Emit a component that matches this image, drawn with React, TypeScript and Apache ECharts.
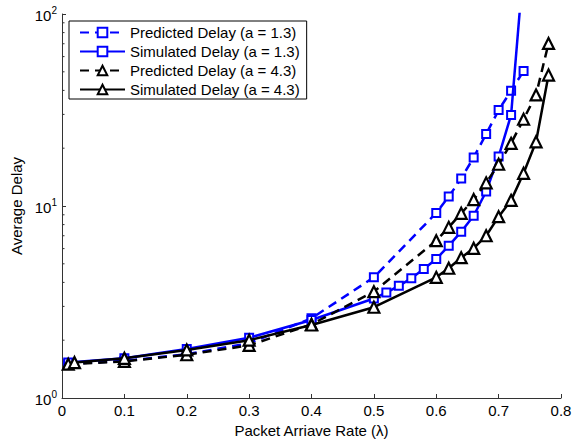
import React, { useEffect, useRef } from "react";
import * as echarts from "echarts";

const predA13X = [0.01, 0.1, 0.2, 0.3, 0.4, 0.5, 0.6, 0.62, 0.64, 0.66, 0.68, 0.7, 0.72, 0.74];
const predA13Y = [1.51, 1.56, 1.69, 1.93, 2.6, 4.25, 9.2, 11.2, 13.9, 17.9, 23.7, 31.6, 39.8, 50.5];

const simA13X = [0.01, 0.1, 0.2, 0.3, 0.4, 0.5, 0.52, 0.54, 0.56, 0.58, 0.6, 0.62, 0.64, 0.66, 0.68, 0.7, 0.72, 0.74];
const simA13Y = [1.53, 1.61, 1.8, 2.06, 2.55, 3.3, 3.54, 3.84, 4.2, 4.7, 5.3, 6.2, 7.35, 8.9, 11.9, 18.1, 29.8, 180];

const predA43X = [0.01, 0.1, 0.2, 0.3, 0.4, 0.5, 0.6, 0.62, 0.64, 0.66, 0.68, 0.7, 0.72, 0.74, 0.76, 0.78];
const predA43Y = [1.5, 1.55, 1.68, 1.88, 2.42, 3.58, 6.6, 7.74, 9.16, 10.8, 13.2, 16.5, 21.2, 28.3, 37.9, 70.3];

const simA43X = [0.02, 0.1, 0.2, 0.3, 0.4, 0.5, 0.6, 0.62, 0.64, 0.66, 0.68, 0.7, 0.72, 0.74, 0.76, 0.78];
const simA43Y = [1.53, 1.61, 1.78, 2.0, 2.4, 2.97, 4.25, 4.74, 5.38, 6.02, 7.0, 8.8, 10.7, 14.8, 21.6, 48.1];

const seriesNames = [
  "Predicted Delay (a = 1.3)",
  "Simulated Delay (a = 1.3)",
  "Predicted Delay (a = 4.3)",
  "Simulated Delay (a = 4.3)",
];

const xTickLabels = ["0", "0.1", "0.2", "0.3", "0.4", "0.5", "0.6", "0.7", "0.8"];
const yMinorTicks = [2, 3, 4, 5, 6, 7, 8, 9, 20, 30, 40, 50, 60, 70, 80, 90];

const FONT = "'Liberation Sans', Arial, Helvetica, sans-serif";
const BLUE = "#0000ff";
const BLACK = "#000000";
const AXIS = "#333333";
const FS = 15;

function pairs(xs: number[], ys: number[]) {
  return xs.map((x, i) => [x, ys[i]]);
}

export default function App() {
  const ref = useRef<HTMLDivElement>(null);

  useEffect(() => {
    if (!ref.current) return;
    const chart = echarts.init(ref.current, null, { renderer: "svg" });

    const squareStyle = { color: "#ffffff", borderColor: BLUE, borderWidth: 2 };
    const triStyle = { color: "#ffffff", borderColor: BLACK, borderWidth: 2.2 };

    chart.setOption({
      animation: false,
      backgroundColor: "#ffffff",
      textStyle: { fontFamily: FONT, color: "#000" },
      grid: { left: 62, right: 26, top: 14, bottom: 43, containLabel: false, outerBoundsMode: "none" },
      legend: {
        data: seriesNames,
        orient: "vertical",
        left: 69,
        top: 21,
        padding: [4, 7, 2, 10],
        itemWidth: 45,
        itemHeight: 12,
        itemGap: 4,
        borderColor: "#000",
        borderWidth: 1,
        borderRadius: 0,
        backgroundColor: "#ffffff",
        selectedMode: false,
        textStyle: { fontSize: FS, color: "#000", fontFamily: FONT },
      },
      xAxis: {
        type: "value",
        min: 0,
        max: 0.8,
        interval: 0.1,
        name: "Packet Arriave Rate (λ)",
        nameLocation: "middle",
        nameGap: 21,
        nameTextStyle: { fontSize: FS, color: "#000", fontFamily: FONT },
        axisLine: { show: true, onZero: false, lineStyle: { color: AXIS, width: 1 } },
        axisTick: { show: true, inside: true, length: 4, lineStyle: { color: AXIS } },
        axisLabel: {
          fontSize: FS,
          color: "#000",
          margin: 5,
          fontFamily: FONT,
          formatter: (v: number) => xTickLabels[Math.round(v * 10)] ?? "",
        },
        splitLine: { show: false },
      },
      yAxis: {
        type: "log",
        logBase: 10,
        min: 1,
        max: 100,
        name: "Average Delay",
        nameLocation: "middle",
        nameGap: 35,
        nameRotate: 90,
        nameTextStyle: { fontSize: FS, color: "#000", fontFamily: FONT },
        axisLine: { show: true, lineStyle: { color: AXIS, width: 1 } },
        axisTick: { show: true, inside: true, length: 4, lineStyle: { color: AXIS } },
        axisLabel: {
          margin: 5,
          fontFamily: FONT,
          formatter: (v: number) => `{b|10}{s|${Math.round(Math.log10(v))}}`,
          rich: {
            b: { fontSize: FS, color: "#000", fontFamily: FONT, verticalAlign: "bottom", lineHeight: 18 },
            s: { fontSize: 10, color: "#000", fontFamily: FONT, verticalAlign: "top", lineHeight: 10 },
          },
        },
        splitLine: { show: false },
      },
      series: [
        {
          name: seriesNames[0],
          type: "line",
          data: pairs(predA13X, predA13Y),
          symbol: "rect",
          symbolSize: 8,
          itemStyle: squareStyle,
          lineStyle: { color: BLUE, width: 2.5, type: [9, 6] },
          z: 2,
        },
        {
          name: seriesNames[1],
          type: "line",
          data: pairs(simA13X, simA13Y),
          symbol: "rect",
          symbolSize: 8,
          itemStyle: squareStyle,
          lineStyle: { color: BLUE, width: 2.5 },
          z: 3,
        },
        {
          name: seriesNames[2],
          type: "line",
          data: pairs(predA43X, predA43Y),
          symbol: "triangle",
          symbolSize: 11,
          itemStyle: triStyle,
          lineStyle: { color: BLACK, width: 2.5, type: [9, 6] },
          z: 4,
        },
        {
          name: seriesNames[3],
          type: "line",
          data: pairs(simA43X, simA43Y),
          symbol: "triangle",
          symbolSize: 11,
          itemStyle: triStyle,
          lineStyle: { color: BLACK, width: 2.5 },
          z: 5,
        },
        {
          name: "minorTicks",
          type: "custom",
          silent: true,
          clip: false,
          z: 1,
          data: yMinorTicks.map((v) => [0, v]),
          renderItem: (_params: any, api: any) => {
            const p = api.coord([api.value(0), api.value(1)]);
            return {
              type: "line",
              shape: { x1: p[0], y1: p[1], x2: p[0] + 2.5, y2: p[1] },
              style: { stroke: AXIS, lineWidth: 1 },
            };
          },
        },
      ],
    });

    return () => chart.dispose();
  }, []);

  return (
    <div
      ref={ref}
      style={{ position: "fixed", left: 0, top: 0, width: 587, height: 441, background: "#fff" }}
    />
  );
}
